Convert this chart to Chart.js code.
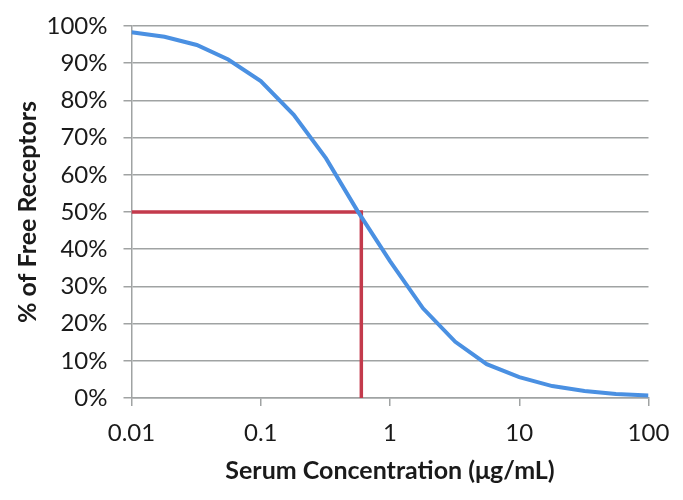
<!DOCTYPE html>
<html>
<head>
<meta charset="utf-8">
<script src="https://cdn.jsdelivr.net/npm/chart.js@4"></script>
<style>
html,body{margin:0;padding:0;background:#fff;}
#wrap{width:683px;height:500px;}
</style>
</head>
<body>
<div id="wrap"><canvas id="c" width="683" height="500"></canvas></div>
<script>
const concentrations = [0.01, 0.018, 0.032, 0.056, 0.1, 0.18, 0.32, 0.56, 1, 1.8, 3.2, 5.6, 10, 18, 32, 56, 100];
const freeReceptors = [98.3, 97.1, 94.9, 91.0, 85.2, 76.1, 64.4, 50.3, 36.8, 24.1, 15.1, 9.1, 5.6, 3.2, 1.9, 1.1, 0.7];
const markerX = [0.01, 0.6, 0.6];
const markerY = [50, 50, 0];
const xTickValues = [0.01, 0.1, 1, 10, 100];
const xTickLabels = ['0.01', '0.1', '1', '10', '100'];
const yTickValues = [0, 10, 20, 30, 40, 50, 60, 70, 80, 90, 100];

const FONT = "Lato, 'Open Sans', sans-serif";
const GRID = '#a0a3a3';

new Chart(document.getElementById('c'), {
  type: 'line',
  data: {
    datasets: [
      {
        data: concentrations.map((x, i) => ({x: x, y: freeReceptors[i]})),
        borderColor: '#4a90e2',
        borderWidth: 4,
        pointRadius: 0,
        tension: 0,
        order: 1
      },
      {
        data: markerX.map((x, i) => ({x: x, y: markerY[i]})),
        borderColor: '#c33a4c',
        borderWidth: 3.5,
        pointRadius: 0,
        tension: 0,
        order: 2
      }
    ]
  },
  options: {
    responsive: false,
    animation: false,
    devicePixelRatio: 1,
    layout: {padding: {left: 0, right: 34.5, top: 26, bottom: 0}},
    plugins: {legend: {display: false}, tooltip: {enabled: false}},
    scales: {
      x: {
        type: 'logarithmic',
        min: 0.01,
        max: 100,
        afterBuildTicks: (s) => { s.ticks = xTickValues.map(v => ({value: v})); },
        afterFit: (s) => { s.height = 102; s.paddingLeft = 0; s.paddingRight = 0; },
        grid: {display: true, drawOnChartArea: false, color: GRID, lineWidth: 1.5, tickLength: 8},
        border: {display: true, color: GRID, width: 1.5},
        ticks: {
          color: '#1a1a1a',
          font: {family: FONT, size: 24},
          padding: 13,
          maxRotation: 0,
          autoSkip: false,
          callback: (v) => { const i = xTickValues.indexOf(v); return i >= 0 ? xTickLabels[i] : ''; }
        },
        title: {
          display: true,
          text: 'Serum Concentration (\u03bcg/mL)',
          color: '#1a1a1a',
          font: {family: FONT, size: 25, weight: 'bold'},
          padding: {top: 0, bottom: 14}
        }
      },
      y: {
        min: 0,
        max: 100,
        afterBuildTicks: (s) => { s.ticks = yTickValues.map(v => ({value: v})); },
        afterFit: (s) => { s.width = 131.5; s.paddingTop = 0; s.paddingBottom = 0; },
        grid: {color: GRID, lineWidth: 1.5, tickLength: 8},
        border: {display: true, color: GRID, width: 1.5},
        ticks: {
          color: '#1a1a1a',
          font: {family: FONT, size: 24},
          padding: 16,
          callback: (v) => v + '%'
        },
        title: {
          display: true,
          text: '% of Free Receptors',
          color: '#1a1a1a',
          font: {family: FONT, size: 25, weight: 'bold'},
          padding: {top: 13, bottom: 0}
        }
      }
    }
  }
});
</script>
</body>
</html>
